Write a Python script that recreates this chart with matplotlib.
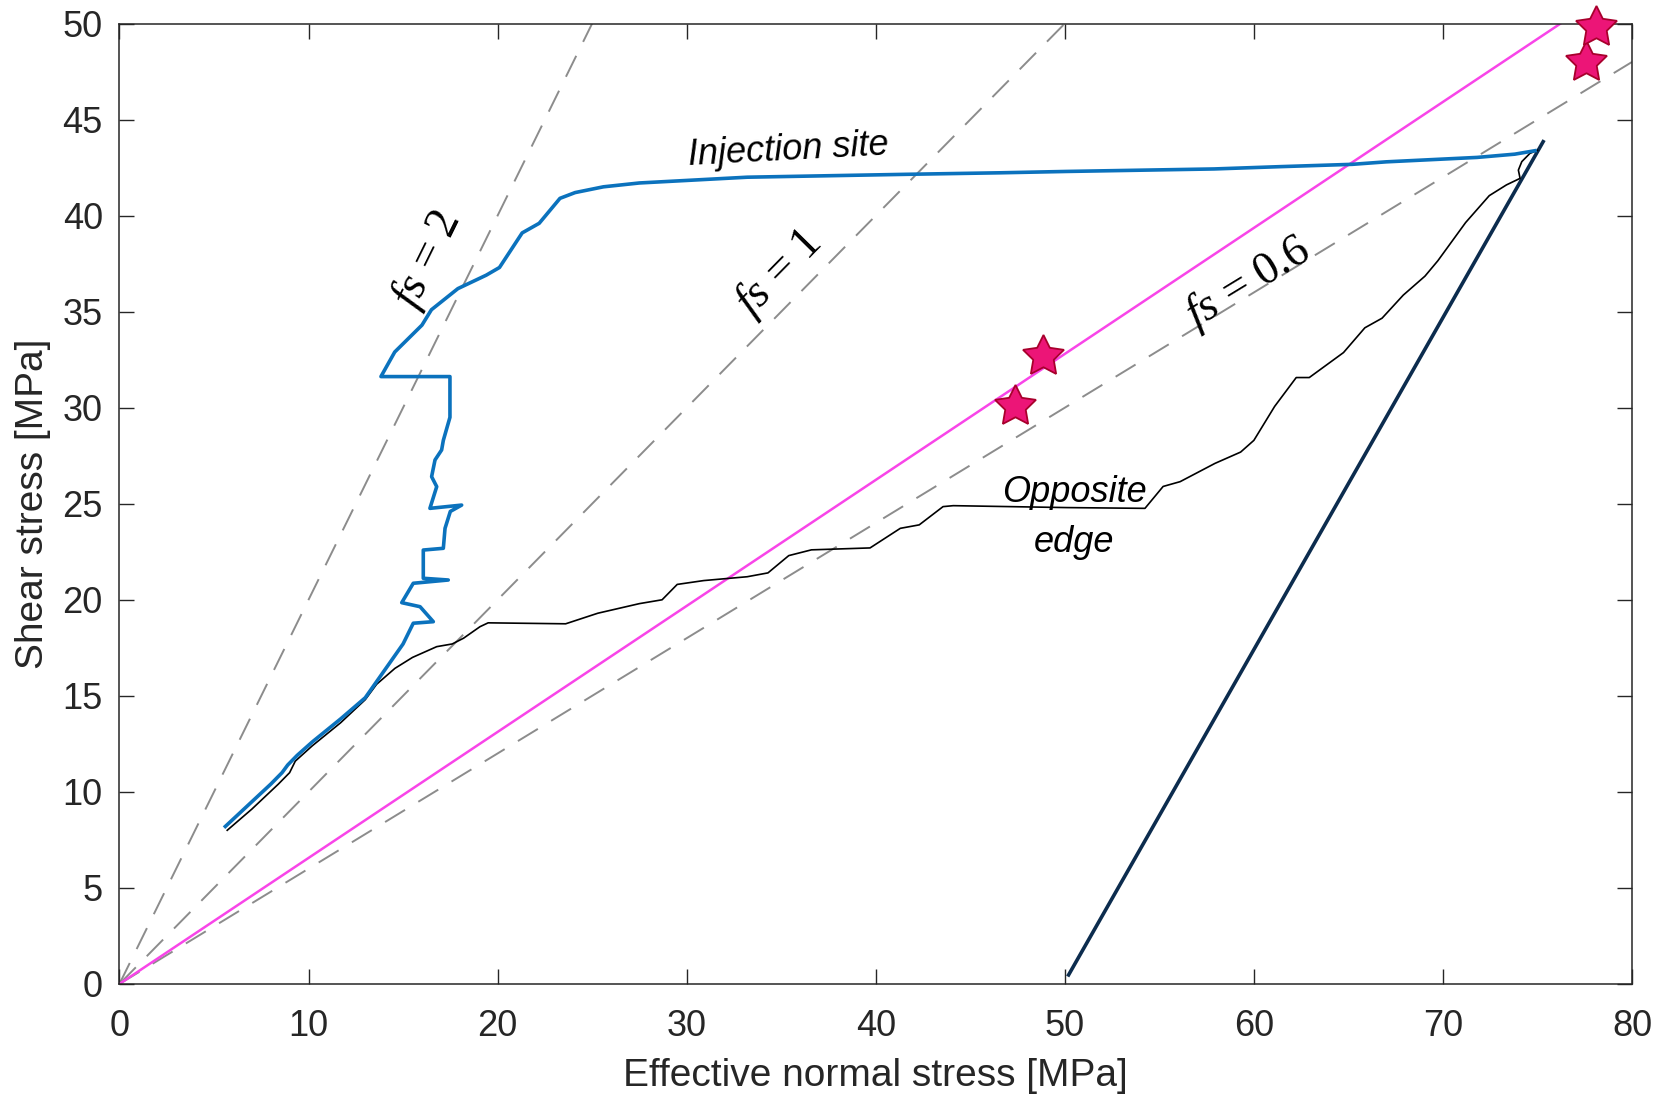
import numpy as np
import matplotlib
matplotlib.use("Agg")
import matplotlib.pyplot as plt

plt.rcParams['font.family'] = ['Liberation Sans', 'DejaVu Sans']
plt.rcParams['mathtext.fontset'] = 'custom'
plt.rcParams['mathtext.it'] = 'Liberation Serif:italic'
plt.rcParams['mathtext.rm'] = 'Liberation Serif'

# stress path at the injection site [MPa]
inj_sn = [5.6, 6.8, 8.0, 8.6, 8.9, 9.4, 10.2, 11.7, 13.0, 14.0, 15.0, 15.54, 16.6, 15.9, 14.93,
          15.54, 17.39, 16.07, 16.07, 17.13, 17.22, 17.5, 18.1, 16.42, 16.78, 16.51, 16.69, 17.04,
          17.13, 17.48, 17.48, 13.83, 14.56, 16.0, 16.5, 17.9, 19.4, 20.1, 21.3, 22.2, 23.3, 24.1,
          25.6, 27.5, 33.2, 41.6, 46.6, 50.1, 57.9, 61.4, 65.2, 67.0, 71.8, 73.8, 74.87]
inj_tau = [8.2, 9.3, 10.4, 11.0, 11.4, 11.9, 12.6, 13.8, 14.9, 16.3, 17.7, 18.78, 18.86, 19.64, 19.85,
           20.86, 21.03, 21.12, 22.59, 22.68, 23.72, 24.6, 24.93, 24.76, 25.89, 26.41, 27.28, 27.8,
           28.3, 29.5, 31.62, 31.62, 32.9, 34.3, 35.1, 36.2, 36.9, 37.3, 39.1, 39.6, 40.9, 41.2,
           41.5, 41.7, 42.0, 42.15, 42.23, 42.3, 42.43, 42.55, 42.67, 42.8, 43.03, 43.2, 43.38]

# stress path at the opposite edge [MPa]
opp_sn = [5.7, 7.0, 8.4, 9.0, 9.3, 10.2, 11.7, 13.0, 13.6, 14.57, 15.5, 16.78, 17.6, 18.2, 19.07,
          19.5, 23.6, 25.3, 27.5, 28.7, 29.5, 30.9, 33.2, 34.3, 35.4, 36.6, 39.7, 41.3, 42.3, 43.56,
          44.1, 50.1, 54.24, 55.2, 56.1, 57.94, 59.3, 60.0, 61.1, 62.24, 62.93, 64.74, 65.87, 66.78,
          67.9, 69.05, 69.73, 71.2, 72.45, 73.36, 74.08, 73.99, 74.17, 74.6, 75.0]
opp_tau = [8.0, 9.1, 10.4, 11.0, 11.6, 12.4, 13.6, 14.8, 15.6, 16.43, 17.0, 17.56, 17.7, 18.0, 18.6,
           18.8, 18.75, 19.3, 19.8, 20.0, 20.8, 21.0, 21.2, 21.4, 22.3, 22.6, 22.7, 23.72, 23.9, 24.85,
           24.9, 24.8, 24.76, 25.9, 26.15, 27.1, 27.69, 28.3, 30.07, 31.57, 31.57, 32.87, 34.16, 34.66,
           35.86, 36.85, 37.65, 39.64, 41.04, 41.6, 41.94, 42.37, 42.81, 43.24, 43.4]

# unloading path
unload_sn = [50.2, 75.3]
unload_tau = [0.47, 43.85]

# friction envelopes
fs_values = [2, 1, 0.6]
fs_label_pos = [(16.3, 37.7), (34.9, 37.0), (59.7, 36.5)]
fit_slope = 0.656

# reactivation points
star_sn = [47.35, 48.87, 77.55, 78.1]
star_tau = [30.08, 32.67, 48.0, 49.8]

fig = plt.figure(figsize=(16.73, 11), dpi=100)
ax = fig.add_axes([0.0714, 0.1055, 0.9041, 0.8731])

xs = np.array([0, 80])
for fs in fs_values:
    ax.plot(xs, fs * xs, color='#8c8c8c', lw=1.4, dashes=(12, 8), zorder=1)
ax.plot(xs, fit_slope * xs, color='#f845e8', lw=1.8, zorder=2)
ax.plot(unload_sn, unload_tau, color='#0c2c4e', lw=2.6, zorder=3)
ax.plot(opp_sn, opp_tau, color='black', lw=1.2, zorder=4)
ax.plot(inj_sn, inj_tau, color='#0b72bd', lw=2.6, zorder=5)
ax.plot(star_sn, star_tau, ls='none', marker=(5, 1, 0), ms=31,
        mfc='#ec1577', mec='#a8002c', mew=1.3, zorder=6, clip_on=False)

# labels along the friction lines
pix_ratio = (0.8731 * 11) / 50 / ((0.9041 * 16.73) / 80)
for fs, (lx, ly) in zip(fs_values, fs_label_pos):
    ang = np.degrees(np.arctan(fs * pix_ratio))
    ax.text(lx, ly, r'$fs$ = ' + str(fs), family='Liberation Serif', fontsize=33,
            rotation=ang, ha='center', va='center', rotation_mode='anchor')

ax.text(35.4, 43.4, 'Injection site', fontsize=26, style='italic', rotation=3,
        ha='center', va='center')
ax.text(50.5, 24.3, 'Opposite\nedge', fontsize=26, style='italic', ha='center',
        va='center', linespacing=1.55)

ax.set_xlim(0, 80)
ax.set_ylim(0, 50)
ax.set_xticks(np.arange(0, 81, 10))
ax.set_yticks(np.arange(0, 51, 5))
ax.tick_params(direction='in', length=11, width=1, labelsize=26, top=True, right=True,
               colors='#262626')
ax.tick_params(axis='x', pad=18)
ax.tick_params(axis='y', pad=12)
for s in ax.spines.values():
    s.set_color('#262626')
    s.set_linewidth(1.1)
ax.set_xlabel('Effective normal stress [MPa]', fontsize=28, color='#262626', labelpad=10)
ax.set_ylabel('Shear stress [MPa]', fontsize=28, color='#262626', labelpad=8)

fig.savefig('out.png', dpi=100)
